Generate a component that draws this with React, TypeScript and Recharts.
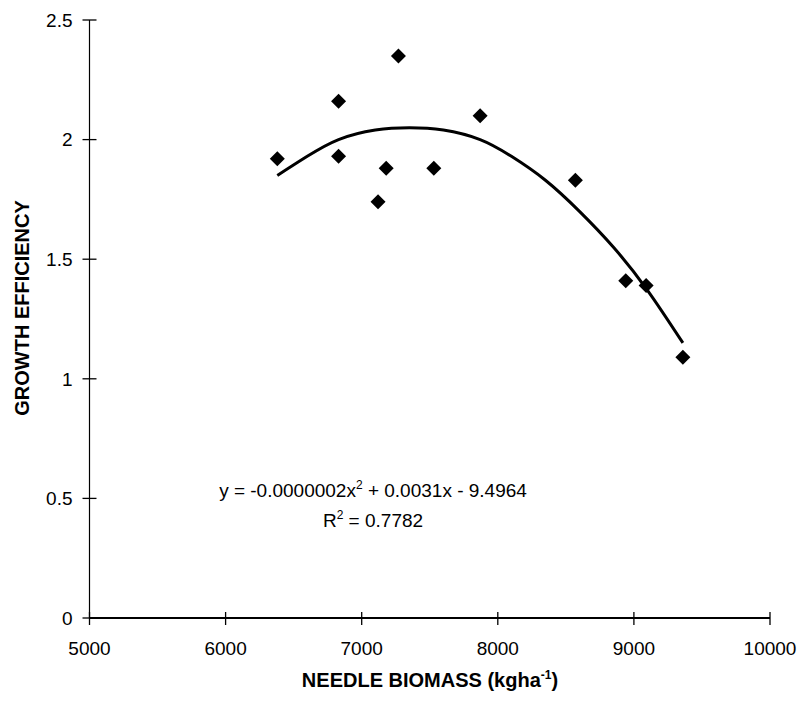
import React from 'react';
import {
  ComposedChart, Scatter, Line, XAxis, YAxis, Label
} from 'recharts';

// measured points (needle biomass vs growth efficiency)
const biomass = [6380, 6830, 6830, 7270, 7180, 7120, 7530, 7870, 8570, 8940, 9090, 9360];
const efficiency = [1.92, 2.16, 1.93, 2.35, 1.88, 1.74, 1.88, 2.10, 1.83, 1.41, 1.39, 1.09];

// polynomial trendline
const trendX = [6380, 6600, 6830, 7100, 7350, 7600, 7870, 8100, 8350, 8600, 8850, 9100, 9360];
const trendY = [1.85, 1.93, 2.0, 2.04, 2.05, 2.04, 2.0, 1.93, 1.83, 1.7, 1.55, 1.37, 1.15];

const xTicks = [5000, 6000, 7000, 8000, 9000, 10000];
const yTicks = [0, 0.5, 1, 1.5, 2, 2.5];

const points = biomass.map((x, i) => ({ x, y: efficiency[i] }));
const trend = trendX.map((x, i) => ({ x, y: trendY[i] }));

const FONT = '"Liberation Sans", Arial, sans-serif';

const Diamond = (props: any) => {
  const { cx, cy } = props;
  if (cx == null || cy == null) return null;
  const r = 7.5;
  return (
    <polygon
      points={`${cx},${cy - r} ${cx + r},${cy} ${cx},${cy + r} ${cx - r},${cy}`}
      fill="#000"
    />
  );
};

const XTick = (props: any) => {
  const { x, y, payload } = props;
  return (
    <g>
      <line x1={x} x2={x} y1={y - 6} y2={y + 7} stroke="#000" strokeWidth={1.3} />
      <text x={x} y={y + 37} textAnchor="middle" fontSize={19} fontFamily={FONT} fill="#000">
        {payload.value}
      </text>
    </g>
  );
};

const YTick = (props: any) => {
  const { x, y, payload } = props;
  return (
    <g>
      <line x1={x - 7} x2={x + 7} y1={y} y2={y} stroke="#000" strokeWidth={1.3} />
      <text x={x - 17} y={y} dy="0.36em" textAnchor="end" fontSize={19} fontFamily={FONT} fill="#000">
        {payload.value}
      </text>
    </g>
  );
};

export default function App() {
  return (
    <div style={{ position: 'absolute', left: 0, top: 0, background: '#fff' }}>
      <ComposedChart
        width={799}
        height={704}
        margin={{ top: 20, right: 29, bottom: 0, left: 0 }}
      >
        <XAxis
          type="number"
          dataKey="x"
          domain={[5000, 10000]}
          ticks={xTicks}
          height={86}
          tickSize={0}
          tickMargin={0}
          tick={<XTick />}
          tickLine={false}
          axisLine={{ stroke: '#000', strokeWidth: 2 }}
          allowDataOverflow
        >
          <Label
            content={() => (
              <text x={430} y={687} textAnchor="middle" fontSize={20} fontWeight="bold" fontFamily={FONT} fill="#000">
                NEEDLE BIOMASS (kgha
                <tspan dy={-8} fontSize={12}>-1</tspan>
                <tspan dy={8}>)</tspan>
              </text>
            )}
          />
          <Label
            content={() => (
              <text textAnchor="middle" fontSize={19} fontFamily={FONT} fill="#000">
                <tspan x={373} y={497}>
                  y = -0.0000002x<tspan dy={-8} fontSize={12}>2</tspan>
                  <tspan dy={8}> + 0.0031x - 9.4964</tspan>
                </tspan>
                <tspan x={373} y={527}>
                  R<tspan dy={-8} fontSize={12}>2</tspan>
                  <tspan dy={8}> = 0.7782</tspan>
                </tspan>
              </text>
            )}
          />
        </XAxis>
        <YAxis
          type="number"
          dataKey="y"
          domain={[0, 2.5]}
          ticks={yTicks}
          width={89.5}
          tickSize={0}
          tickMargin={0}
          tick={<YTick />}
          tickLine={false}
          axisLine={{ stroke: '#000', strokeWidth: 1.2 }}
          allowDataOverflow
        >
          <Label
            content={() => (
              <text
                transform="translate(29,308) rotate(-90)"
                textAnchor="middle"
                fontSize={20}
                fontWeight="bold"
                fontFamily={FONT}
                fill="#000"
              >
                GROWTH EFFICIENCY
              </text>
            )}
          />
        </YAxis>
        <Line
          data={trend}
          dataKey="y"
          type="natural"
          stroke="#000"
          strokeWidth={3}
          dot={false}
          activeDot={false}
          isAnimationActive={false}
        />
        <Scatter data={points} dataKey="y" shape={<Diamond />} isAnimationActive={false} />
      </ComposedChart>
    </div>
  );
}
